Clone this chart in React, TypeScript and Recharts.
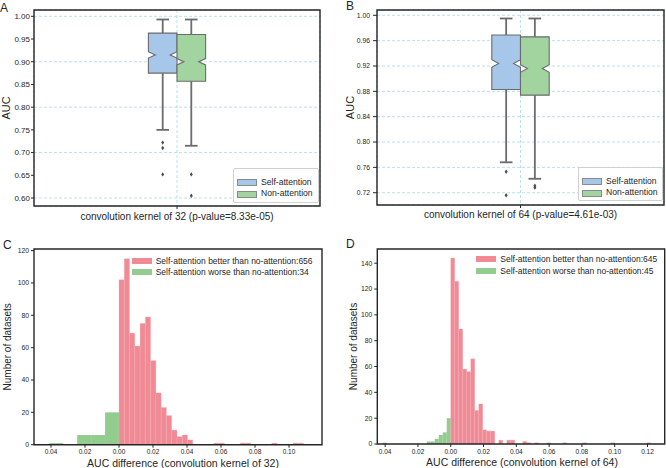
import React from 'react';
import {
  ScatterChart, Scatter, XAxis, YAxis, CartesianGrid,
  ReferenceArea, ReferenceLine, Label,
} from 'recharts';

const FONT = '"Liberation Sans", Arial, Helvetica, sans-serif';
const INK = '#262626';
const BOX_EDGE = '#6b6b6b';
const GRID = '#a9d8e6';

const groupNames = ['Self-attention', 'Non-attention'];
const groupColors = ['#a6c7ea', '#a2d4a0'];
const betterColor = '#f08a94';
const worseColor = '#92cc8e';

// panel A: box plot, kernel 32
const kernel32Label = 'convolution kernel of 32 (p-value=8.33e-05)';
const aucTicks32 = [0.6, 0.65, 0.7, 0.75, 0.8, 0.85, 0.9, 0.95, 1.0];
const low32 = [0.75, 0.715];
const q1_32 = [0.875, 0.857];
const med32 = [0.915, 0.9];
const notchLo32 = [0.908, 0.893];
const notchHi32 = [0.922, 0.907];
const q3_32 = [0.963, 0.96];
const high32 = [0.993, 0.993];
const fliers32 = [[0.722, 0.71, 0.652], [0.652, 0.605]];

// panel B: box plot, kernel 64
const kernel64Label = 'convolution kernel of 64 (p-value=4.61e-03)';
const aucTicks64 = [0.72, 0.76, 0.8, 0.84, 0.88, 0.92, 0.96, 1.0];
const low64 = [0.768, 0.742];
const q1_64 = [0.883, 0.874];
const med64 = [0.924, 0.916];
const notchLo64 = [0.918, 0.91];
const notchHi64 = [0.93, 0.922];
const q3_64 = [0.969, 0.966];
const high64 = [0.995, 0.995];
const fliers64 = [[0.753, 0.716], [0.731, 0.728]];

// panel C: histogram of AUC differences, kernel 32
const diffTicks32 = [-0.04, -0.02, 0, 0.02, 0.04, 0.06, 0.08, 0.1];
const countTicks32 = [0, 20, 40, 60, 80, 100, 120];
const better32Label = 'Self-attention better than no-attention:656';
const worse32Label = 'Self-attention worse than no-attention:34';
const better32BinWidth = 0.0031;
const better32Counts = [102, 115, 69, 61, 75, 79, 52, 32, 23, 18, 9, 5, 6, 3, 0, 0, 0, 0, 1, 1, 0, 0, 0, 1, 1, 0, 0, 0, 0, 1, 0, 0, 0, 1, 1];
const worse32BinWidth = 0.0082;
const worse32Counts = [20, 6, 6, 0, 1]; // from 0 going left

// panel D: histogram of AUC differences, kernel 64
const diffTicks64 = [-0.04, -0.02, 0, 0.02, 0.04, 0.06, 0.08, 0.1, 0.12];
const countTicks64 = [0, 20, 40, 60, 80, 100, 120, 140];
const better64Label = 'Self-attention better than no-attention:645';
const worse64Label = 'Self-attention worse than no-attention:45';
const better64BinWidth = 0.00244;
const better64Counts = [144, 126, 89, 58, 56, 66, 26, 31, 11, 10, 10, 0, 3, 0, 3, 3, 0, 0, 2, 1, 0, 1, 0, 0, 1, 0, 0, 0, 1, 0, 0, 0, 0, 1, 0, 0, 0, 0, 0, 0, 1, 0, 0, 0, 0, 0, 0, 0, 0, 1];
const worse64BinWidth = 0.00244;
const worse64Counts = [20, 9, 7, 4, 2, 2, 0, 0, 0, 0, 0, 0, 0, 0, 0, 0, 1];

const yTitle = (text: string, dx: number, size: number) => (props: any) => {
  const vb = props.viewBox || {};
  const x = (vb.x ?? 0) + dx;
  const y = (vb.y ?? 0) + (vb.height ?? 0) / 2;
  return (
    <text x={x} y={y} transform={`rotate(-90 ${x} ${y})`} textAnchor="middle"
      dominantBaseline="central" fontSize={size} fontFamily={FONT} fill={INK}>{text}</text>
  );
};

const xTitle = (text: string, dx: number, dy: number, size: number) => (props: any) => {
  const vb = props.viewBox || {};
  const x = (vb.x ?? 0) + (vb.width ?? 0) / 2 + dx;
  const y = (vb.y ?? 0) + dy;
  return (
    <text x={x} y={y} textAnchor="middle" dominantBaseline="central"
      fontSize={size} fontFamily={FONT} fill={INK}>{text}</text>
  );
};

const notched = (q1: number, med: number, lo: number, hi: number, q3: number, fill: string) => (p: any) => {
  const { x, y, width, height } = p;
  const py = (v: number) => y + (height * (q3 - v)) / (q3 - q1);
  const inset = width * 0.24;
  const pts = [
    [x, y], [x + width, y], [x + width, py(hi)], [x + width - inset, py(med)],
    [x + width, py(lo)], [x + width, y + height], [x, y + height], [x, py(lo)],
    [x + inset, py(med)], [x, py(hi)],
  ].map((q) => q.join(',')).join(' ');
  return <polygon points={pts} fill={fill} stroke={BOX_EDGE} strokeWidth={1.1} />;
};

const Diamond = (props: any) => {
  const { cx, cy } = props;
  return <path d={`M${cx},${cy - 2.2}L${cx + 1.5},${cy}L${cx},${cy + 2.2}L${cx - 1.5},${cy}Z`} fill="#4d4d4d" />;
};

const Empty = () => <g />;

const Letter = ({ ch, left, top }: { ch: string; left: number; top: number }) => (
  <div style={{ position: 'absolute', left, top, fontFamily: FONT, fontSize: 12, lineHeight: '12px', color: INK }}>{ch}</div>
);

function BoxLegend({ left, top, width, height }: any) {
  return (
    <div style={{
      position: 'absolute', left, top, width, height, border: '1px solid #d0d0d0', borderRadius: 2,
      background: 'rgba(255,255,255,0.85)', fontFamily: FONT, fontSize: 8.6, color: INK,
    }}>
      {groupNames.map((g, i) => (
        <React.Fragment key={g}>
          <div style={{
            position: 'absolute', left: 3, top: 10 + i * 11.7, width: 18, height: 5,
            background: groupColors[i], border: '1px solid #8a8a8a',
          }} />
          <div style={{ position: 'absolute', left: 27, top: 7.5 + i * 11.7, lineHeight: '10px', whiteSpace: 'nowrap' }}>{g}</div>
        </React.Fragment>
      ))}
    </div>
  );
}

function HistLegend({ left, top, labels }: any) {
  const colors = [betterColor, worseColor];
  return (
    <div style={{ position: 'absolute', left, top, fontFamily: FONT, fontSize: 8.5, color: INK }}>
      {labels.map((t: string, i: number) => (
        <React.Fragment key={t}>
          <div style={{ position: 'absolute', left: 0, top: i * 11.8 - 3, width: 20, height: 6, background: colors[i] }} />
          <div style={{ position: 'absolute', left: 24, top: i * 11.8 - 5, lineHeight: '10px', whiteSpace: 'nowrap' }}>{t}</div>
        </React.Fragment>
      ))}
    </div>
  );
}

function BoxPanel(p: any) {
  const center = (i: number) => 0.45 + 0.1 * i;
  const fliersData = p.fliers.flatMap((vals: number[], i: number) => vals.map((v) => ({ x: center(i), y: v })));
  const cap = 0.022;
  return (
    <ScatterChart width={333} height={234} margin={p.margin}>
      <CartesianGrid strokeDasharray="3 2" stroke={GRID} strokeWidth={0.8} />
      <XAxis type="number" dataKey="x" domain={[0, 1]} ticks={[0.5]} allowDataOverflow
        tickFormatter={() => p.xLabel} axisLine={false} tickLine={{ stroke: INK }} tickSize={3} tickMargin={p.xTickMargin}
        tick={{ fontSize: 10, fill: INK, fontFamily: FONT }} height={p.xAxisH} />
      <YAxis type="number" dataKey="y" domain={p.yDomain} ticks={p.yTicks} allowDataOverflow
        tickFormatter={(v: number) => v.toFixed(2)} axisLine={false} tickLine={{ stroke: INK }}
        tickSize={p.yTickSize} tickMargin={p.yTickMargin}
        tick={{ fontSize: p.yTickFont, fill: INK, fontFamily: FONT }} width={p.yAxisW}>
        <Label content={yTitle('AUC', p.yTitleX, 11)} />
      </YAxis>
      {groupNames.map((g, i) => {
        const c = center(i);
        return (
          <React.Fragment key={g}>
            <ReferenceLine segment={[{ x: c, y: p.q3[i] }, { x: c, y: p.high[i] }]} stroke={BOX_EDGE} strokeWidth={1.8} ifOverflow="visible" />
            <ReferenceLine segment={[{ x: c, y: p.low[i] }, { x: c, y: p.q1[i] }]} stroke={BOX_EDGE} strokeWidth={1.8} ifOverflow="visible" />
            <ReferenceLine segment={[{ x: c - cap, y: p.high[i] }, { x: c + cap, y: p.high[i] }]} stroke={BOX_EDGE} strokeWidth={1.8} ifOverflow="visible" />
            <ReferenceLine segment={[{ x: c - cap, y: p.low[i] }, { x: c + cap, y: p.low[i] }]} stroke={BOX_EDGE} strokeWidth={1.8} ifOverflow="visible" />
            <ReferenceArea x1={c - 0.05} x2={c + 0.05} y1={p.q1[i]} y2={p.q3[i]} ifOverflow="visible"
              shape={notched(p.q1[i], p.med[i], p.nlo[i], p.nhi[i], p.q3[i], groupColors[i])} />
          </React.Fragment>
        );
      })}
      <Scatter data={fliersData} shape={Diamond} isAnimationActive={false} />
      <ReferenceArea x1={0} x2={1} y1={p.yDomain[0]} y2={p.yDomain[1]} fill="none" fillOpacity={0}
        stroke={INK} strokeWidth={1.4} ifOverflow="visible" />
    </ScatterChart>
  );
}

function HistPanel(p: any) {
  const marks = p.better.map((c: number, k: number) => ({ x: (k + 0.5) * p.betterW, y: c }));
  const fmt = (v: number) => Math.abs(v).toFixed(2);
  return (
    <ScatterChart width={333} height={234} margin={p.margin}>
      <XAxis type="number" dataKey="x" domain={p.xDomain} ticks={p.xTicks} allowDataOverflow
        tickFormatter={fmt} axisLine={false} tickLine={{ stroke: INK }} tickSize={3} tickMargin={2}
        tick={{ fontSize: 6.5, fill: INK, fontFamily: FONT }} height={p.xAxisH}>
        <Label content={xTitle(p.xLabel, p.xTitleDx, p.xTitleDy, 10.5)} />
      </XAxis>
      <YAxis type="number" dataKey="y" domain={p.yDomain} ticks={p.yTicks} allowDataOverflow
        axisLine={false} tickLine={{ stroke: INK }} tickSize={3} tickMargin={2}
        tick={{ fontSize: 6.8, fill: INK, fontFamily: FONT }} width={p.yAxisW}>
        <Label content={yTitle('Number of datasets', p.yTitleX, 10)} />
      </YAxis>
      {p.worse.map((c: number, k: number) => (c > 0 ? (
        <ReferenceArea key={`w${k}`} x1={-(k + 1) * p.worseW} x2={-k * p.worseW} y1={0} y2={c}
          fill={worseColor} fillOpacity={1} stroke="none" ifOverflow="visible" />
      ) : null))}
      {p.better.map((c: number, k: number) => (c > 0 ? (
        <ReferenceArea key={`b${k}`} x1={k * p.betterW} x2={(k + 1) * p.betterW} y1={0} y2={c}
          fill={betterColor} fillOpacity={1} stroke="#f6b0b7" strokeWidth={0.3} ifOverflow="visible" />
      ) : null))}
      <Scatter data={marks} shape={Empty} isAnimationActive={false} />
      <ReferenceArea x1={p.xDomain[0]} x2={p.xDomain[1]} y1={p.yDomain[0]} y2={p.yDomain[1]} fill="none" fillOpacity={0}
        stroke={INK} strokeWidth={1.4} ifOverflow="visible" />
    </ScatterChart>
  );
}

export default function App() {
  return (
    <div style={{ position: 'absolute', left: 0, top: 0, width: 666, height: 468, background: '#fff', overflow: 'hidden' }}>
      <div style={{ position: 'absolute', left: 0, top: 0 }}>
        <BoxPanel margin={{ top: 10, right: 13, bottom: 0, left: 0 }} xAxisH={28} yAxisW={34}
          yDomain={[0.5824, 1.0139]} yTicks={aucTicks32} yTickSize={3} yTickMargin={1} yTickFont={8} yTitleX={6}
          xLabel={kernel32Label} xTickMargin={4}
          low={low32} q1={q1_32} med={med32} nlo={notchLo32} nhi={notchHi32} q3={q3_32} high={high32} fliers={fliers32} />
      </div>
      <div style={{ position: 'absolute', left: 333, top: 0 }}>
        <BoxPanel margin={{ top: 10, right: 2, bottom: 0, left: 0 }} xAxisH={29} yAxisW={44}
          yDomain={[0.7006, 1.0084]} yTicks={aucTicks64} yTickSize={4} yTickMargin={3} yTickFont={6.8} yTitleX={17}
          xLabel={kernel64Label} xTickMargin={3}
          low={low64} q1={q1_64} med={med64} nlo={notchLo64} nhi={notchHi64} q3={q3_64} high={high64} fliers={fliers64} />
      </div>
      <div style={{ position: 'absolute', left: 0, top: 234 }}>
        <HistPanel margin={{ top: 15, right: 11, bottom: 0, left: 0 }} xAxisH={23.3} yAxisW={34}
          xDomain={[-0.05, 0.1194]} xTicks={diffTicks32} yDomain={[0, 121]} yTicks={countTicks32}
          better={better32Counts} betterW={better32BinWidth} worse={worse32Counts} worseW={worse32BinWidth}
          xLabel="AUC difference (convolution kernel of 32)" xTitleDx={5} xTitleDy={18.3} yTitleX={8} />
      </div>
      <div style={{ position: 'absolute', left: 333, top: 234 }}>
        <HistPanel margin={{ top: 15, right: 1.3, bottom: 0, left: 0 }} xAxisH={24} yAxisW={44.3}
          xDomain={[-0.0448, 0.1305]} xTicks={diffTicks64} yDomain={[0, 151]} yTicks={countTicks64}
          better={better64Counts} betterW={better64BinWidth} worse={worse64Counts} worseW={worse64BinWidth}
          xLabel="AUC difference (convolution kernel of 64)" xTitleDx={1} xTitleDy={17.7} yTitleX={20} />
      </div>
      <BoxLegend left={233} top={168} width={84} height={33} />
      <BoxLegend left={578} top={167} width={83} height={32} />
      <HistLegend left={131.7} top={260.7} labels={[better32Label, worse32Label]} />
      <HistLegend left={476.3} top={259} labels={[better64Label, worse64Label]} />
      <Letter ch="A" left={0} top={2} />
      <Letter ch="B" left={346} top={0} />
      <Letter ch="C" left={3} top={239} />
      <Letter ch="D" left={346} top={238} />
    </div>
  );
}
